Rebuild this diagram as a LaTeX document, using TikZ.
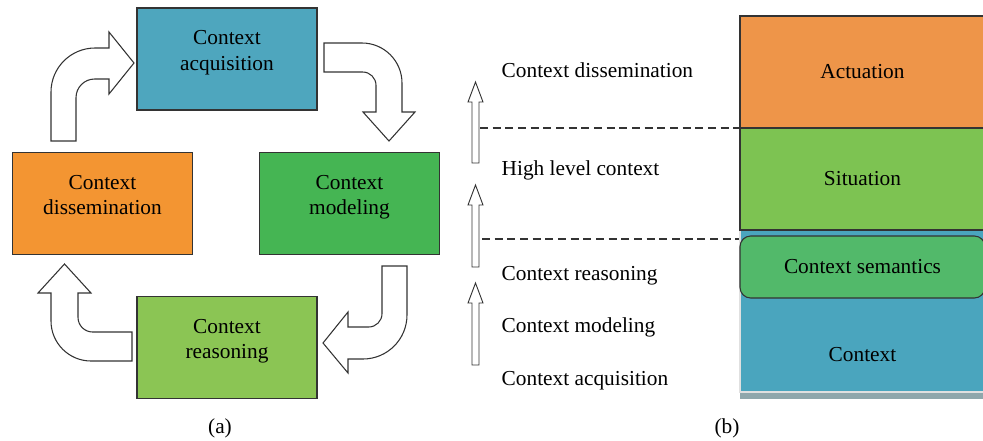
\documentclass[tikz,border=0pt]{standalone}
\usepackage{fontspec}
\setmainfont{Liberation Serif}
\usetikzlibrary{positioning}

\definecolor{acqblue}{RGB}{78,166,190}
\definecolor{disorange}{RGB}{243,149,50}
\definecolor{modgreen}{RGB}{69,181,83}
\definecolor{reagreen}{RGB}{139,197,84}
\definecolor{actorange}{RGB}{238,149,73}
\definecolor{sitgreen}{RGB}{125,195,82}
\definecolor{ctxblue}{RGB}{74,165,190}
\definecolor{semgreen}{RGB}{82,185,106}
\definecolor{stripgrey}{RGB}{143,167,172}
\definecolor{linegrey}{RGB}{51,51,51}

\begin{document}
\begin{tikzpicture}[x=0.75pt,y=-0.75pt,
    font=\fontsize{16pt}{19pt}\selectfont,
    stagebox/.style={draw=linegrey,line width=0.8pt,minimum width=135pt,minimum height=76.5pt,align=center,text depth=13pt},
    layerbox/.style={draw=linegrey,line width=0.8pt,minimum width=183.75pt,inner sep=0pt},
    blockarrow/.style={draw=linegrey,line width=0.8pt,fill=white,line join=miter},
    dashline/.style={draw=linegrey,line width=0.8pt,dash pattern=on 6pt off 3.5pt}]
    \useasboundingbox (0,0) rectangle (983,440);
    \clip (0,0) rectangle (983,440);

    % Cycle
    \node[stagebox,fill=acqblue] (acq) at (227,59) {Context\\acquisition};
    \node[stagebox,fill=modgreen] (mod) at (349.5,203.5) {Context\\modeling};
    \node[stagebox,fill=reagreen] (rea) at (227,347.5) {Context\\reasoning};
    \node[stagebox,fill=disorange] (dis) at (102.5,203.5) {Context\\dissemination};

    \draw[blockarrow] (51,141) [rounded corners=33pt] -- (51,48) [sharp corners] -- (109,48) -- (109,32)
      -- (134,63) -- (109,94) -- (109,79) [rounded corners=14pt] -- (76,79) [sharp corners] -- (76,141) -- cycle;
    \draw[blockarrow] (324,43) [rounded corners=30pt] -- (402,43) [sharp corners] -- (402,112) -- (415,112)
      -- (389,141) -- (363,112) -- (376,112) [rounded corners=10pt] -- (376,72) [sharp corners] -- (324,72) -- cycle;
    \draw[blockarrow] (382,266) -- (407,266) [rounded corners=33pt] -- (407,359) [sharp corners] -- (348,359)
      -- (348,373) -- (323,343) -- (348,312) -- (348,327) [rounded corners=10pt] -- (382,327) [sharp corners] -- cycle;
    \draw[blockarrow] (132,332) [rounded corners=11pt] -- (78,332) [sharp corners] -- (78,293) -- (91,293)
      -- (64.5,264) -- (38,293) -- (51,293) [rounded corners=30pt] -- (51,361) [sharp corners] -- (132,361) -- cycle;

    \node (capa) at (220,428) {(a)};

    % Levels
    \foreach \t/\b in {82/163,185/267,283/365}
      \draw[blockarrow,line width=0.7pt] (472,\b) -- (472,\t+20) -- (468,\t+20) -- (475.5,\t)
        -- (483,\t+20) -- (479,\t+20) -- (479,\b) -- cycle;

    \node[anchor=west] (ldis) at (497,70) {Context dissemination};
    \node[anchor=west] (lhigh) at (497,170) {High level context};
    \node[anchor=west] (lrea) at (497,276) {Context reasoning};
    \node[anchor=west] (lmod) at (497,327) {Context modeling};
    \node[anchor=west] (lacq) at (497,381) {Context acquisition};

    % Stack
    \fill[stripgrey] (740,390) rectangle (990,399);
    \node[layerbox,draw=black!12,fill=ctxblue,minimum height=121.5pt] (ctx) at (862.5,311) {};
    \node (ctxtext) at (862.5,355) {Context};
    \node[layerbox,fill=semgreen,rounded corners=8pt,minimum height=46.5pt] (sem) at (862.5,267) {Context semantics};
    \node[layerbox,fill=sitgreen,minimum height=76.5pt] (sit) at (862.5,179) {Situation};
    \node[layerbox,fill=actorange,minimum height=84pt] (act) at (862.5,72) {Actuation};

    \coordinate (dashtop) at (480,128);
    \coordinate (dashlow) at (482,239);
    \draw[dashline] (dashtop) -- (dashtop -| act.west);
    \draw[dashline] (dashlow) -- (dashlow -| ctx.west);

    \node (capb) at (727,428) {(b)};
  \end{tikzpicture}
\end{document}
